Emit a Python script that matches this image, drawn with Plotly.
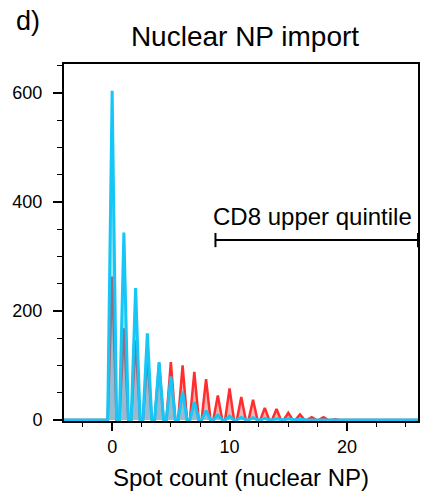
import plotly.graph_objects as go

# ---- data ----
spot_counts = list(range(-4, 27))
cd8_upper = [0, 0, 0, 0,
             263, 168, 146, 115, 104, 106, 100, 88, 75, 45, 58, 42, 37, 22, 20, 13, 10, 5, 5, 1,
             0, 0, 0, 0, 0, 0, 0]
other_cells = [0, 0, 0, 0,
               604, 344, 242, 159, 106, 80, 52, 33, 17, 9, 7, 5, 4, 3, 2, 2, 1, 0, 0, 0,
               0, 0, 0, 0, 0, 0, 0]
x_ticks = [0, 10, 20]
y_ticks = [0, 200, 400, 600]
bracket_x = [8.8, 26.05]
bracket_y = 330
bracket_cap = 13
label_text = "CD8 upper quintile"

FONT = "Liberation Sans, Arial, Helvetica, sans-serif"
HALF = 0.5      # spacing to the midpoint between counts
BASE = 0.38     # half-width of each spike's base


def spikes(xs, ys):
    """Turn per-count values into a spiky outline (zero between counts)."""
    px, py = [xs[0] - HALF], [0]
    for k, v in zip(xs, ys):
        px += [k - BASE, k, k + BASE]
        py += [0, v, 0]
    px.append(xs[-1] + HALF)
    py.append(0)
    return px, py


fig = go.Figure()
rx, ry = spikes(spot_counts, cd8_upper)
fig.add_trace(go.Scatter(x=rx, y=ry, mode="lines", fill="tozeroy",
                         line=dict(color="#ff2d2d", width=2.5),
                         fillcolor="rgba(255,0,0,0.30)", showlegend=False,
                         hoverinfo="skip"))
cx, cy = spikes(spot_counts, other_cells)
fig.add_trace(go.Scatter(x=cx, y=cy, mode="lines", fill="tozeroy",
                         line=dict(color="#16c6f6", width=3),
                         fillcolor="rgba(0,200,250,0.40)", showlegend=False,
                         hoverinfo="skip"))

# bracket for the CD8 upper quintile
fig.add_shape(type="line", xref="x", yref="y", x0=bracket_x[0], x1=bracket_x[1],
              y0=bracket_y, y1=bracket_y, line=dict(color="black", width=2))
for bx in bracket_x:
    fig.add_shape(type="line", xref="x", yref="y", x0=bx, x1=bx,
                  y0=bracket_y - bracket_cap, y1=bracket_y + bracket_cap,
                  line=dict(color="black", width=2))
fig.add_annotation(x=bracket_x[0] - 0.35, y=bracket_y + 43, xref="x", yref="y",
                   text=label_text, showarrow=False, xanchor="left", yanchor="middle",
                   font=dict(family=FONT, size=24, color="black"))

# panel label
fig.add_annotation(x=-0.142, y=1.12, xref="paper", yref="paper", text="d)",
                   showarrow=False, xanchor="left", yanchor="middle",
                   font=dict(family=FONT, size=27, color="black"))

fig.update_layout(
    width=426, height=493,
    margin=dict(l=64, r=8, t=64, b=72),
    paper_bgcolor="white", plot_bgcolor="white",
    font=dict(family=FONT, color="black"),
    title=dict(text="Nuclear NP import", x=245 / 426, y=1 - 36 / 493,
               xanchor="center", yanchor="middle",
               font=dict(family=FONT, size=28, color="black")),
    showlegend=False,
)
fig.update_xaxes(
    range=[-4.1, 26.05], tickvals=x_ticks, ticktext=[str(v) for v in x_ticks],
    showgrid=False, zeroline=False, showline=True, linecolor="black", linewidth=2,
    mirror=True, ticks="outside", ticklen=8, tickwidth=2, tickcolor="black",
    tickfont=dict(family=FONT, size=18, color="black"),
    minor=dict(dtick=2.5, ticks="outside", ticklen=4, tickwidth=1, tickcolor="black"),
    title=dict(text="Spot count (nuclear NP)", standoff=14,
               font=dict(family=FONT, size=24, color="black")),
    automargin=False,
    layer="below traces",
)
fig.update_yaxes(
    range=[-2, 653], tickvals=y_ticks, ticktext=[str(v) for v in y_ticks],
    showgrid=False, zeroline=False, showline=True, linecolor="black", linewidth=2,
    mirror=True, ticks="outside", ticklen=9, tickwidth=2, tickcolor="black",
    tickfont=dict(family=FONT, size=18, color="black"),
    minor=dict(dtick=50, ticks="outside", ticklen=5, tickwidth=1, tickcolor="black"),
    ticklabelstandoff=7,
    automargin=False,
    layer="below traces",
)

fig.write_html("out.html")
